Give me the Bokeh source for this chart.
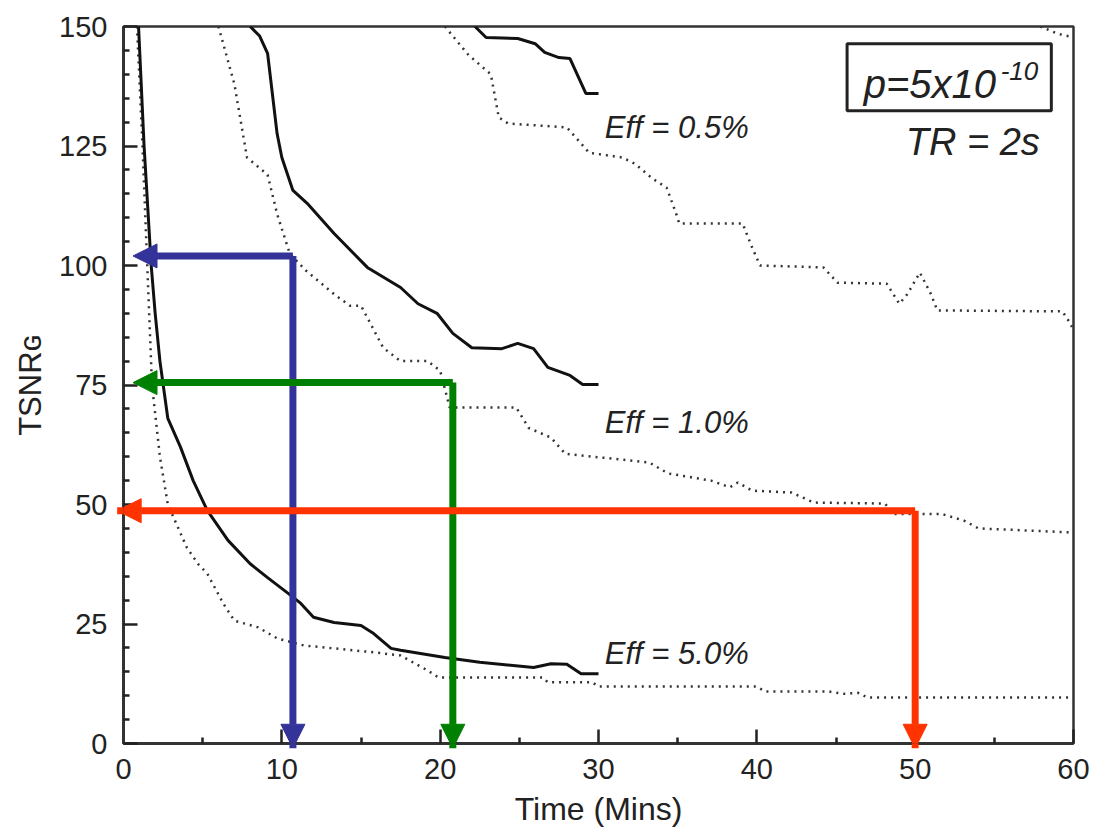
from bokeh.plotting import figure
from bokeh.models import FixedTicker, Label, BoxAnnotation, Arrow, NormalHead
from bokeh.embed import file_html
from bokeh.resources import INLINE

# ---------------- data (Time in minutes, TSNR_G) ----------------
eff5_solid_t = [0.95, 1.3, 1.75, 2.0, 2.3, 2.8, 3.6, 4.4, 5.3, 6.6, 8.0, 9.1, 10.4, 11.2, 12.0,
                13.3, 15.0, 15.8, 16.9, 17.5, 20.3, 22.5, 25.9, 27.0, 28.0, 28.9, 30.0]
eff5_solid_v = [150, 125, 100, 90, 80, 68, 62, 55, 48.7, 42.5, 37.6, 34.7, 31.4, 29.3, 26.4,
                25.3, 24.7, 23.0, 19.9, 19.5, 18.0, 17.0, 15.9, 16.7, 16.6, 14.6, 14.6]

eff5_dot_t = [0.85, 1.2, 1.5, 1.8, 2.3, 2.8, 4.0, 4.7, 5.3, 6.3, 7.0, 8.5, 9.7, 11.4, 13.3, 16.0,
              17.5, 19.2, 19.9, 26.5, 26.8, 29.6, 30.0, 40.0, 40.5, 44.5, 45.5, 46.4, 47.0, 60.0]
eff5_dot_v = [150, 125, 100, 75, 60, 50, 41, 37.6, 35.5, 29.3, 25.7, 24.3, 22.0, 20.5, 19.9, 19.0,
              18.4, 15.3, 13.8, 13.8, 12.8, 12.8, 11.9, 11.9, 10.9, 10.9, 10.4, 10.6, 9.6, 9.6]

eff1_solid_t = [8.0, 8.6, 9.1, 9.7, 10.0, 10.7, 11.6, 13.3, 15.4, 17.5, 18.6, 19.8, 20.8, 22.0,
                23.9, 24.9, 25.9, 26.8, 28.2, 29.0, 30.0]
eff1_solid_v = [150, 148, 144.4, 127.6, 122.6, 115.7, 113.0, 106.7, 99.6, 95.4, 92.0, 90.0, 85.8,
                82.8, 82.6, 83.7, 82.6, 78.7, 77.0, 75.1, 75.1]

eff1_dot_t = [6.0, 7.0, 7.8, 9.1, 9.7, 10.5, 11.5, 13.3, 14.3, 15.0, 16.4, 17.5, 19.2, 20.0, 20.6,
              24.8, 25.6, 27.0, 27.9, 33.2, 34.4, 37.1, 38.3, 38.8, 39.7, 42.2, 43.6, 48.1, 48.6,
              51.7, 53.1, 54.0, 59.6, 60.0]
eff1_dot_v = [150, 138, 122.6, 119, 110.8, 102.5, 99, 94, 91.6, 91.6, 82.8, 80, 80, 78, 70.3,
              70.3, 66, 64, 60.6, 58.8, 56.5, 55, 53.6, 54.6, 52.9, 52.5, 50.4, 50.2, 48,
              48, 46.6, 45, 44.2, 44]

eff05_solid_t = [22.2, 22.9, 24.9, 26.0, 26.6, 27.5, 28.2, 29.2, 30.0]
eff05_solid_v = [150, 147.7, 147.5, 146.4, 144.6, 143.5, 143.3, 136.0, 136.0]

eff05_dot_t = [20.3, 21.8, 23.2, 23.7, 24.3, 28.0, 28.9, 29.4, 31.5, 32.3, 33.4, 34.3, 34.9, 35.1,
               39.1, 39.7, 40.2, 44.2, 45.1, 48.2, 49.0, 49.5, 50.3, 51.0, 51.4, 59.3, 59.8, 60.0]
eff05_dot_v = [150, 144, 140, 131, 129.7, 128.9, 125.5, 123.6, 122.6, 121.3, 118.2, 116.3, 110.9,
               108.8, 108.8, 103.8, 100, 99.6, 96.4, 96.2, 92, 94, 98.5, 94, 90.6, 90.4, 87.9, 86.4]

corner_dot_t = [57.9, 59.0, 60.0]
corner_dot_v = [150, 148.5, 147.7]

eff_labels = ["Eff = 0.5%", "Eff = 1.0%", "Eff = 5.0%"]
eff_label_t = [30.4, 30.4, 30.4]
eff_label_v = [128.9, 67.2, 18.8]

# read-off arrows: (time, TSNR) pairs
arrow_time = [10.7, 20.8, 50.0]
arrow_tsnr = [102.0, 75.5, 48.7]
arrow_tip_time = [0.6, 0.6, -0.4]
arrow_tip_tsnr = [-1.0, -1.0, -1.0]
arrow_colors = ["#333399", "#008000", "#FF3300"]

x_ticks = [0, 10, 20, 30, 40, 50, 60]
x_minor = [5, 15, 25, 35, 45, 55]
y_ticks = [0, 25, 50, 75, 100, 125, 150]
y_minor = [v for v in range(0, 151, 5) if v % 25]

FONT = "Liberation Sans"
TXT = "#222222"

p = figure(frame_width=950, frame_height=717, x_range=(0, 60), y_range=(0, 150),
           output_backend="svg", toolbar_location=None,
           min_border_left=123, min_border_right=24, min_border_top=26, min_border_bottom=88)
p.background_fill_color = "white"
p.border_fill_color = "white"
p.outline_line_color = "#333333"
p.outline_line_width = 2.5
p.grid.visible = False

for ax in (p.xaxis[0], p.yaxis[0]):
    ax.axis_line_width = 3
    ax.axis_line_color = "#333333"
    ax.major_tick_in = 14
    ax.major_tick_out = 0
    ax.minor_tick_in = 6
    ax.minor_tick_out = 0
    ax.major_tick_line_width = 2.5
    ax.minor_tick_line_width = 2.5
    ax.major_tick_line_color = "#222222"
    ax.minor_tick_line_color = "#222222"
    ax.major_label_text_font = FONT
    ax.major_label_text_font_size = "29px"
    ax.major_label_text_color = TXT
    ax.major_label_standoff = 16
    ax.axis_label_text_font = FONT
    ax.axis_label_text_font_style = "normal"
    ax.axis_label_text_color = TXT

p.xaxis.ticker = FixedTicker(ticks=x_ticks, minor_ticks=x_minor)
p.yaxis.ticker = FixedTicker(ticks=y_ticks, minor_ticks=y_minor)

p.xaxis.axis_label = "Time (Mins)"
p.xaxis.axis_label_text_font_size = "32px"
p.xaxis.axis_label_standoff = 9
p.xaxis.major_label_standoff = 15
p.yaxis.axis_label = "TSNR\u0262"
p.yaxis.axis_label_text_font_size = "31px"
p.yaxis.axis_label_standoff = 8

solid_kw = dict(line_color="#111111", line_width=3)
dot_kw = dict(line_color="#333333", line_width=2.5, line_dash="2 5")

p.line(eff05_dot_t, eff05_dot_v, **dot_kw)
p.line(eff1_dot_t, eff1_dot_v, **dot_kw)
p.line(eff5_dot_t, eff5_dot_v, **dot_kw)
p.line(corner_dot_t, corner_dot_v, **dot_kw)
p.line(eff05_solid_t, eff05_solid_v, **solid_kw)
p.line(eff1_solid_t, eff1_solid_v, **solid_kw)
p.line(eff5_solid_t, eff5_solid_v, **solid_kw)

for txt, t, v in zip(eff_labels, eff_label_t, eff_label_v):
    p.add_layout(Label(x=t, y=v, text=txt, text_font=FONT, text_font_size="31px",
                       text_font_style="italic", text_color=TXT, text_baseline="middle"))

# p-value box and TR label
p.add_layout(BoxAnnotation(left=45.7, right=58.6, bottom=132.4, top=146.4,
                           fill_alpha=0, line_alpha=1, line_color="#222222", line_width=3))
p.add_layout(Label(x=46.75, y=137.9, text="p=5x10", text_font=FONT, text_font_size="40px",
                   text_font_style="italic", text_color=TXT, text_baseline="alphabetic"))
p.add_layout(Label(x=55.4, y=140.6, text="-10", text_font=FONT, text_font_size="26px",
                   text_font_style="italic", text_color=TXT, text_baseline="alphabetic"))
p.add_layout(Label(x=49.4, y=125.9, text="TR = 2s", text_font=FONT, text_font_size="38px",
                   text_font_style="italic", text_color=TXT, text_baseline="middle"))

# read-off arrows
for t, v, tt, tv, c in zip(arrow_time, arrow_tsnr, arrow_tip_time, arrow_tip_tsnr, arrow_colors):
    p.add_layout(Arrow(x_start=t, y_start=v, x_end=tt, y_end=v, line_color=c, line_width=7,
                       end=NormalHead(size=24, fill_color=c, line_color=c, line_width=1)))
    p.add_layout(Arrow(x_start=t, y_start=v, x_end=t, y_end=tv, line_color=c, line_width=7,
                       end=NormalHead(size=24, fill_color=c, line_color=c, line_width=1)))

open("out.html", "w").write(file_html(p, INLINE))
